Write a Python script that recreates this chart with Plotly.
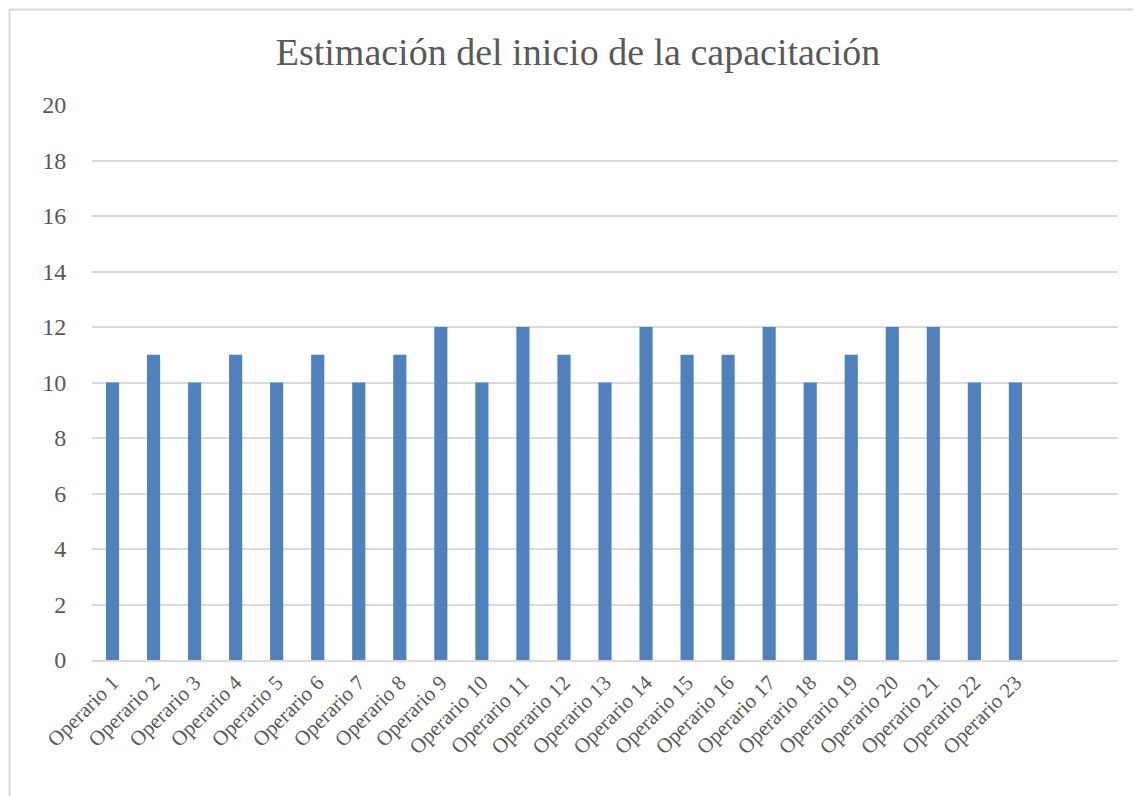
import plotly.graph_objects as go

# datos
operarios = ["Operario %d" % i for i in range(1, 24)]
semanas = [10, 11, 10, 11, 10, 11, 10, 11, 12, 10, 12, 11, 10, 12, 11, 11, 12, 10, 11, 12, 12, 10, 10]
y_ticks = list(range(0, 21, 2))

# la pagina deja 8px de margen en el body
OFF = 8
W, H = 1141 - OFF, 796 - OFF
ml, mt = 92 - OFF, 105 - OFF
pw, ph = 1026, 555
mr, mb = W - ml - pw, H - mt - ph


def px_x(x):
    return (x - OFF - ml) / pw


def px_y(y):
    return (mt + ph - (y - OFF)) / ph


fig = go.Figure()
fig.add_trace(go.Bar(x=operarios, y=semanas, marker_color="#4f81bd",
                     marker_line_width=0, showlegend=False))

fig.update_layout(
    width=W, height=H,
    margin=dict(l=ml, r=mr, t=mt, b=mb),
    paper_bgcolor="white", plot_bgcolor="white",
    font=dict(family="Liberation Serif, DejaVu Serif, serif", color="#595959"),
    title=dict(text="Estimación del inicio de la capacitación",
               x=(578 - OFF) / W, xanchor="center", y=1 - (52 - OFF) / H,
               yanchor="middle", yref="container",
               font=dict(size=38, color="#595959")),
    bargap=0.68,
)
fig.update_xaxes(range=[-0.5, 24.5], tickangle=-45, tickfont=dict(size=21),
                 showgrid=False, showline=True, linecolor="#d9d9d9", linewidth=2,
                 ticks="", fixedrange=True)
fig.update_yaxes(range=[0, 20], tickvals=y_ticks, tickfont=dict(size=24),
                 showgrid=True, gridcolor="#d9d9d9", gridwidth=1.5,
                 zeroline=False, ticks="outside", ticklen=20,
                 tickcolor="rgba(0,0,0,0)", fixedrange=True)

# borde del area del grafico
fig.add_shape(type="rect", xref="paper", yref="paper",
              x0=px_x(9.5), x1=px_x(1160), y0=px_y(820), y1=px_y(9.5),
              line=dict(color="#d9d9d9", width=2), fillcolor="rgba(0,0,0,0)",
              layer="below")

fig.write_html("out.html")
